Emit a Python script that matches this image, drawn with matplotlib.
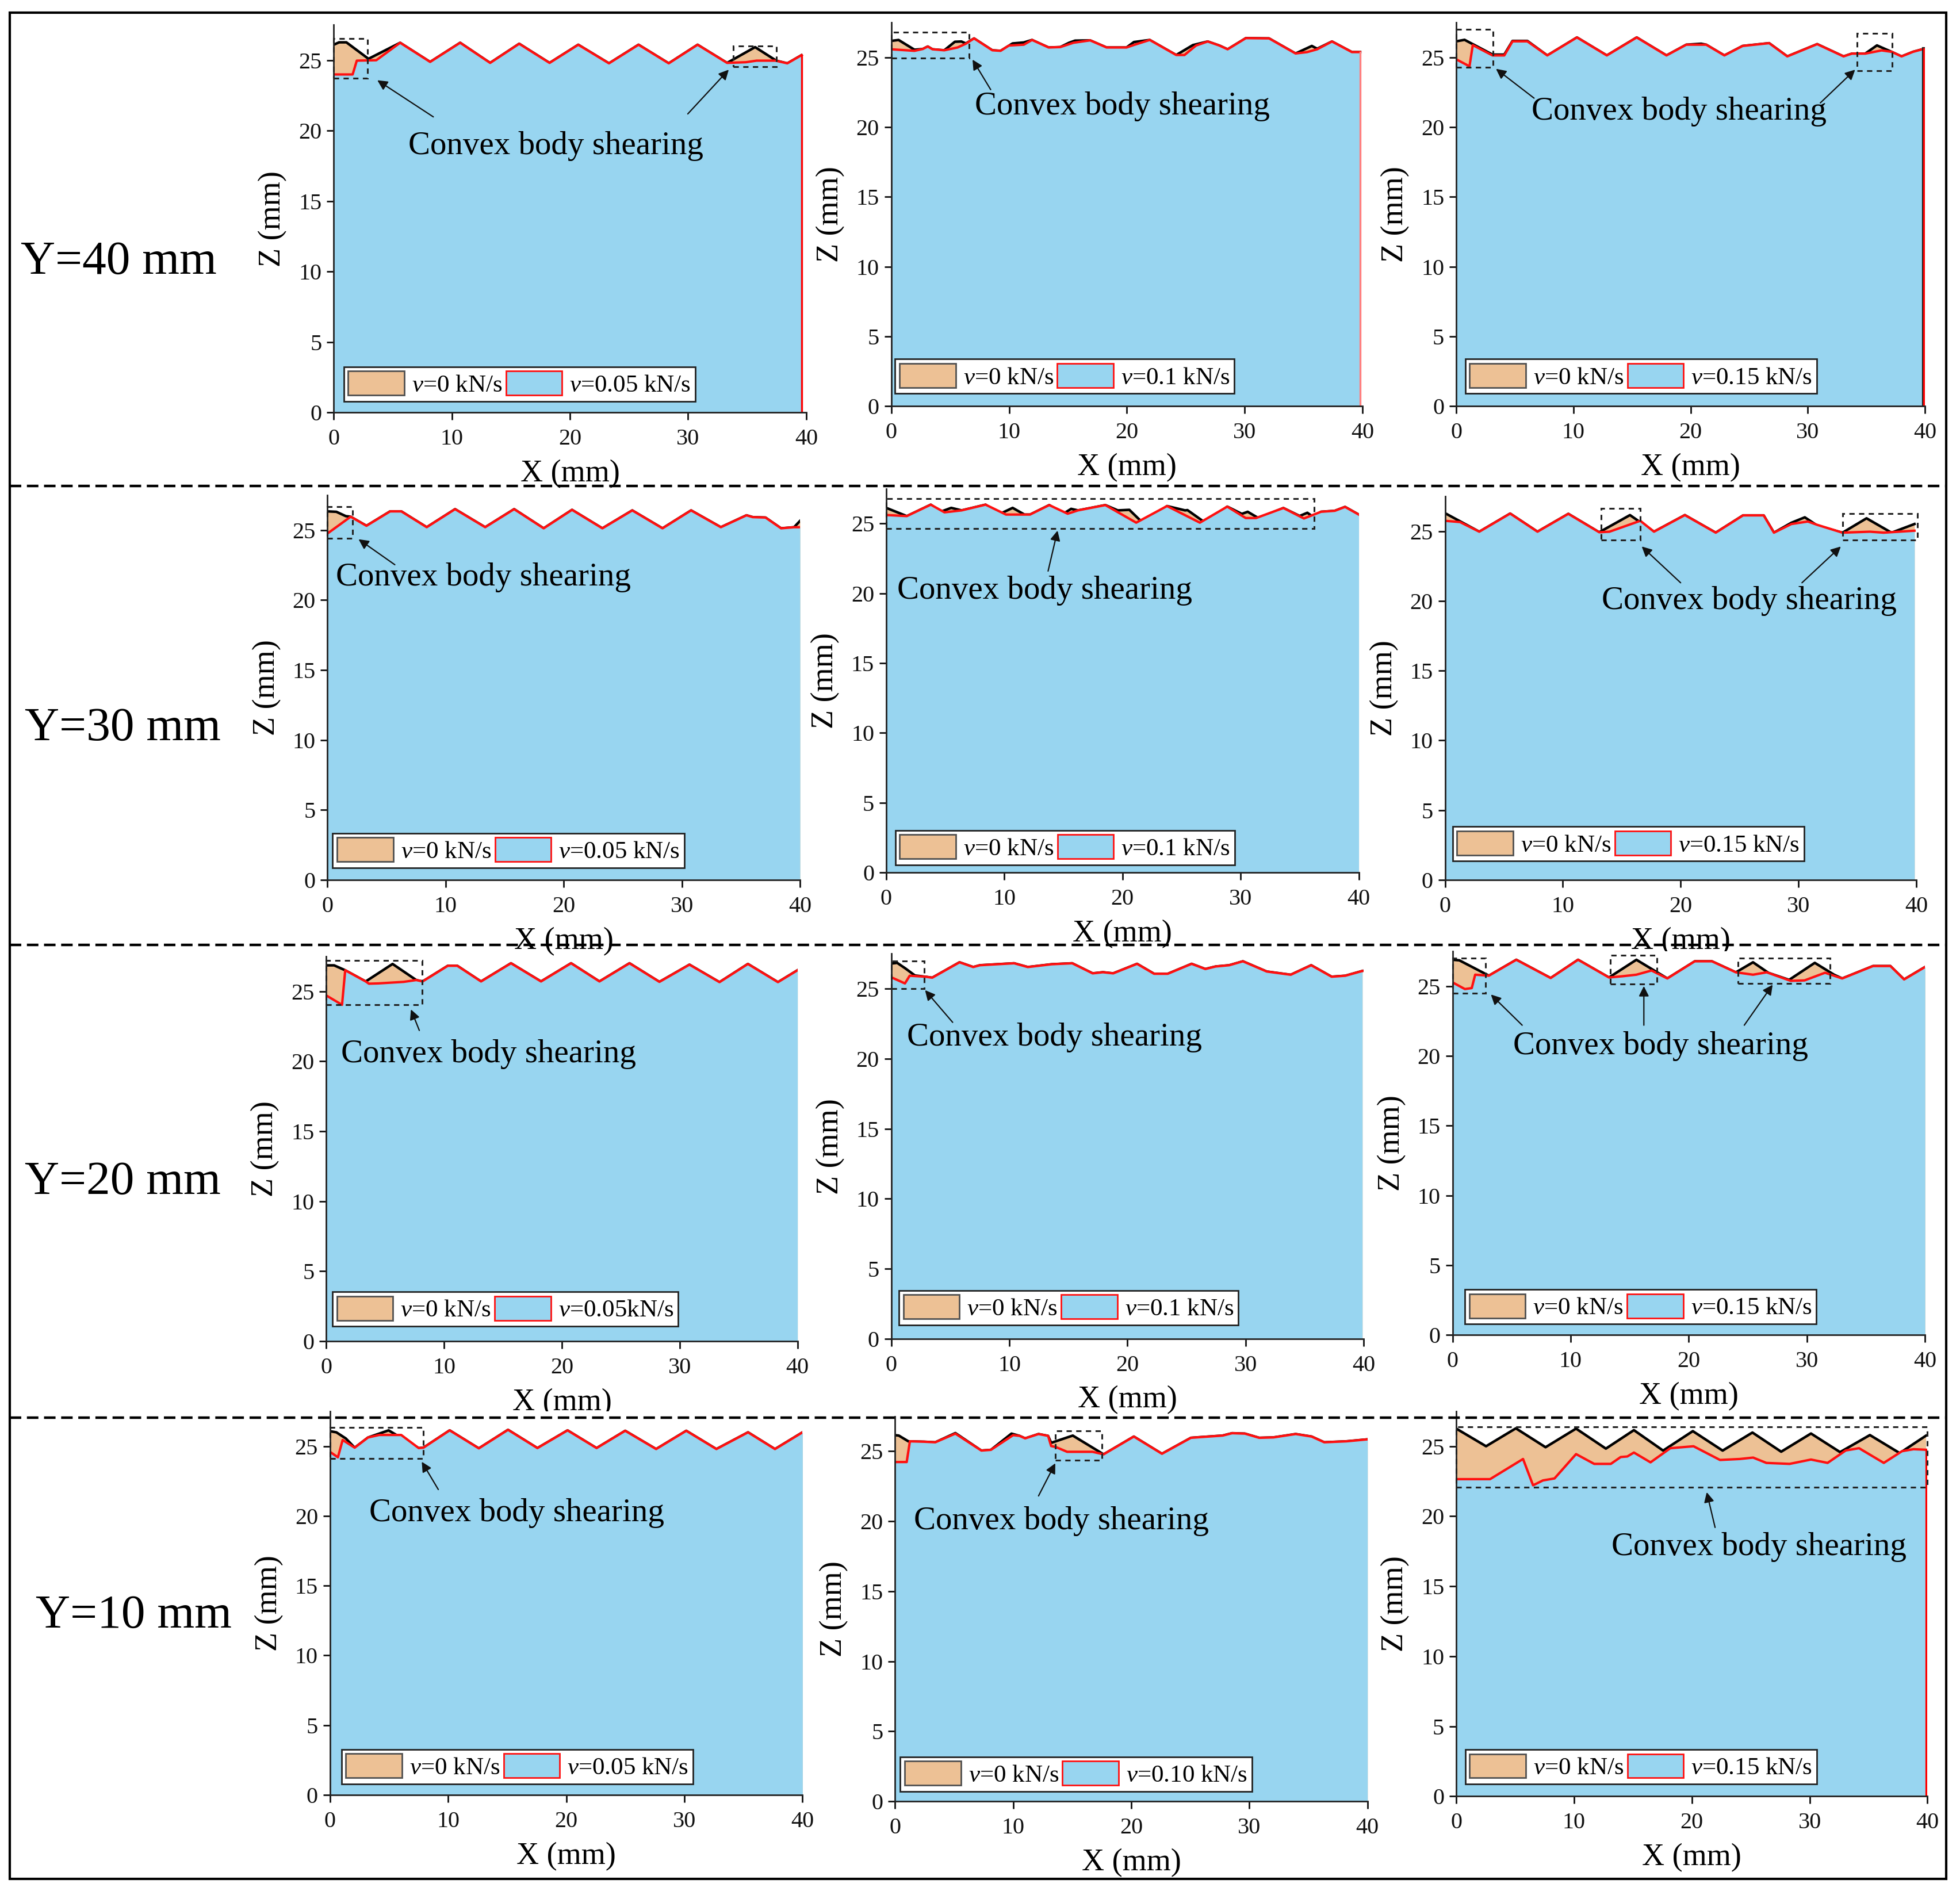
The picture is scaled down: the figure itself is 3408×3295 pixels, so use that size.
import matplotlib
matplotlib.use('Agg')
import matplotlib.pyplot as plt
from matplotlib.patches import Rectangle, Patch
from matplotlib.lines import Line2D

plt.rcParams['font.family'] = ['Liberation Serif', 'DejaVu Serif']
plt.rcParams['mathtext.fontset'] = 'custom'
plt.rcParams['mathtext.it'] = 'Liberation Serif:italic'
plt.rcParams['mathtext.rm'] = 'Liberation Serif'

# ---------------- data (X in mm, Z in mm) ----------------
row_labels = ['Y=40 mm', 'Y=30 mm', 'Y=20 mm', 'Y=10 mm']
ref_label = '$v$=0 kN/s'
load_labels = [['$v$=0.05 kN/s', '$v$=0.1 kN/s', '$v$=0.15 kN/s'],
               ['$v$=0.05 kN/s', '$v$=0.1 kN/s', '$v$=0.15 kN/s'],
               ['$v$=0.05kN/s', '$v$=0.1 kN/s', '$v$=0.15 kN/s'],
               ['$v$=0.05 kN/s', '$v$=0.10 kN/s', '$v$=0.15 kN/s']]
x_ticks = [0, 10, 20, 30, 40]
z_ticks = [0, 5, 10, 15, 20, 25]
note = 'Convex body shearing'

# Y=40, v=0.05
y40a_x0 = [0, 0.45, 1.07, 2.94, 5.62, 8.16, 10.7, 13.24, 15.7, 18.27, 20.7, 23.3, 25.8, 28.36, 30.8, 33.3, 35.67, 37.46, 38.4, 39.6]
y40a_z0 = [26.1, 26.27, 26.27, 25.1, 26.24, 24.88, 26.24, 24.81, 26.17, 24.81, 26.1, 24.78, 26.1, 24.78, 26.1, 24.81, 25.93, 24.97, 24.78, 25.36]
y40a_x1 = [0, 1.6, 1.95, 3.6, 5.62, 8.16, 10.7, 13.24, 15.7, 18.27, 20.7, 23.3, 25.8, 28.36, 30.8, 33.3, 34.9, 35.8, 37.4, 38.4, 39.6]
y40a_z1 = [23.99, 23.99, 24.97, 25.0, 26.24, 24.88, 26.24, 24.81, 26.17, 24.81, 26.1, 24.78, 26.1, 24.78, 26.1, 24.81, 24.86, 24.97, 24.97, 24.78, 25.36]

# Y=40, v=0.1
y40b_x0 = [0, 0.62, 1.97, 2.67, 3.1, 3.5, 4.5, 5.4, 5.95, 6.33, 7.03, 8.58, 9.28, 10.3, 11.25, 11.95, 13.36, 14.35, 15.1, 15.6,
           16.88, 18.28, 19.97, 20.6, 21.94, 24.19, 25.6, 26.86, 27.85, 28.55, 30.1, 32.07, 34.32, 35.7, 36.15, 37.41, 39.1, 39.8]
y40b_z0 = [26.18, 26.25, 25.55, 25.6, 25.78, 25.58, 25.51, 26.12, 26.14, 26.0, 26.36, 25.51, 25.47, 26.0, 26.07, 26.25, 25.71, 25.74, 26.05, 26.2,
           26.22, 25.71, 25.71, 26.1, 26.25, 25.17, 25.88, 26.14, 25.85, 25.58, 26.38, 26.36, 25.28, 25.82, 25.62, 26.14, 25.38, 25.38]
y40b_x1 = [0, 1.97, 2.67, 3.1, 3.5, 4.5, 5.63, 6.33, 7.03, 8.58, 9.28, 9.99, 11.25, 11.95, 13.36, 14.35, 15.47, 16.88, 18.28, 19.97,
           20.67, 21.94, 24.19, 24.89, 25.87, 26.86, 27.85, 28.55, 30.1, 32.07, 34.32, 35.3, 36.15, 37.41, 39.1, 39.8]
y40b_z1 = [25.58, 25.47, 25.6, 25.78, 25.58, 25.51, 25.71, 25.98, 26.36, 25.51, 25.47, 25.85, 25.91, 26.25, 25.71, 25.74, 26.05, 26.22, 25.71, 25.71,
           25.91, 26.25, 25.17, 25.17, 25.85, 26.14, 25.85, 25.58, 26.38, 26.36, 25.28, 25.38, 25.58, 26.14, 25.38, 25.38]

# Y=40, v=0.15
y40c_x0 = [0, 0.71, 3.1, 4.1, 4.8, 6.07, 7.77, 10.3, 12.85, 15.4, 17.94, 19.63, 20.9, 21.33, 22.88, 24.44, 26.7, 28.25, 30.8, 33.05,
           33.76, 34.9, 35.9, 36.6, 37.15, 38.0, 38.98, 39.9]
y40c_z0 = [26.15, 26.26, 25.2, 25.2, 26.18, 26.18, 25.14, 26.43, 25.14, 26.43, 25.14, 25.91, 25.98, 25.91, 25.14, 25.82, 26.02, 25.07, 25.95, 25.07,
           25.27, 25.27, 25.86, 25.6, 25.4, 25.07, 25.4, 25.61]
y40c_x1 = [0, 1.13, 1.41, 3.1, 4.1, 4.8, 6.07, 7.77, 10.3, 12.85, 15.4, 17.94, 19.63, 21.33, 22.88, 24.44, 26.7, 28.25, 30.8, 33.05,
           33.76, 34.9, 36.3, 37.15, 38.0, 38.98, 39.9]
y40c_z1 = [24.86, 24.36, 25.88, 25.14, 25.14, 26.15, 26.15, 25.14, 26.43, 25.14, 26.43, 25.14, 25.91, 25.91, 25.14, 25.82, 26.02, 25.07, 25.95, 25.07,
           25.27, 25.27, 25.5, 25.4, 25.07, 25.4, 25.61]

# Y=30, v=0.05
y30a_x0 = [0, 0.75, 1.55, 1.96, 3.3, 5.3, 6.25, 8.4, 10.8, 13.35, 15.8, 18.3, 20.7, 23.27, 25.8, 28.36, 30.78, 33.3, 35.47, 36.0, 37.08, 38.4, 39.5, 40]
y30a_z0 = [26.33, 26.3, 25.99, 25.95, 25.3, 26.33, 26.33, 25.2, 26.49, 25.2, 26.49, 25.12, 26.44, 25.12, 26.4, 25.12, 26.4, 25.2, 26.05, 25.92, 25.89, 25.12, 25.2, 25.65]
y30a_x1 = [0, 1.96, 3.3, 5.3, 6.25, 8.4, 10.8, 13.35, 15.8, 18.3, 20.7, 23.27, 25.8, 28.36, 30.78, 33.3, 35.47, 36.0, 37.08, 38.4, 39.5, 40]
y30a_z1 = [24.75, 25.95, 25.3, 26.33, 26.33, 25.2, 26.49, 25.2, 26.49, 25.12, 26.44, 25.12, 26.4, 25.12, 26.4, 25.2, 26.05, 25.92, 25.89, 25.12, 25.2, 25.2]

# Y=30, v=0.1
y30b_x0 = [0, 1.74, 3.77, 4.6, 5.5, 6.38, 8.41, 9.5, 10.7, 11.7, 12.17, 13.8, 15.0, 15.65, 16.23, 18.55, 19.6, 20.58, 21.7, 23.77,
           25.3, 25.5, 27.0, 28.87, 30.1, 30.6, 31.5, 33.62, 35.0, 35.65, 36.2, 36.8, 37.97, 38.84, 40]
y30b_z0 = [26.13, 25.54, 26.36, 25.85, 26.13, 25.95, 26.36, 25.65, 26.13, 25.65, 25.65, 26.33, 25.71, 26.06, 25.95, 26.33, 25.95, 25.99, 25.07, 26.26,
           25.95, 25.97, 25.07, 26.22, 25.7, 25.85, 25.4, 26.12, 25.55, 25.78, 25.45, 25.85, 25.92, 26.2, 25.65]
y30b_x1 = [0, 1.74, 3.77, 4.93, 6.38, 8.41, 10.14, 12.17, 13.8, 15.36, 16.23, 18.55, 21.16, 23.77, 26.55, 28.87, 30.43, 31.3, 33.62, 35.36,
           36.8, 37.97, 38.84, 40]
y30b_z1 = [25.62, 25.54, 26.36, 25.81, 25.95, 26.36, 25.65, 25.65, 26.33, 25.71, 25.95, 26.33, 25.07, 26.26, 25.07, 26.22, 25.4, 25.4, 26.12, 25.37,
           25.85, 25.92, 26.2, 25.65]

# Y=30, v=0.15
y30c_x0 = [0, 2.91, 5.53, 7.85, 10.47, 13.09, 15.7, 17.74, 20.36, 22.98, 25.3, 27.05, 27.92, 29.4, 30.54, 31.6, 33.74, 35.78, 37.9, 39.85]
y30c_z0 = [26.29, 24.96, 26.26, 24.96, 26.24, 24.92, 26.15, 24.96, 26.15, 24.89, 26.13, 26.13, 24.89, 25.6, 25.99, 25.4, 24.89, 25.92, 24.89, 25.51]
y30c_x1 = [0, 1.28, 2.91, 5.53, 7.85, 10.47, 13.09, 13.96, 16.58, 17.74, 20.36, 22.98, 25.3, 27.05, 27.92, 29.4, 30.8, 31.6, 33.74, 36.07, 37.23, 39.85]
y30c_z1 = [25.74, 25.65, 24.96, 26.26, 24.96, 26.24, 24.92, 24.96, 25.74, 24.96, 26.15, 24.89, 26.13, 26.13, 24.89, 25.51, 25.69, 25.45, 24.89, 24.96, 24.89, 25.03]

# Y=20, v=0.05
y20a_x0 = [0, 0.67, 1.61, 3.35, 5.63, 7.64, 8.18, 10.32, 11.12, 13.14, 15.68, 18.23, 20.78, 23.19, 25.74, 28.28, 30.83, 33.38, 35.79, 38.34, 40]
y20a_z0 = [26.85, 26.85, 26.5, 25.7, 26.95, 25.8, 25.7, 26.82, 26.82, 25.7, 27.0, 25.7, 27.0, 25.7, 27.0, 25.67, 26.9, 25.65, 26.95, 25.65, 26.5]
y20a_x1 = [0, 1.34, 1.61, 3.35, 3.62, 4.42, 6.57, 7.64, 8.18, 10.32, 11.12, 13.14, 15.68, 18.23, 20.78, 23.19, 25.74, 28.28, 30.83, 33.38, 35.79, 38.34, 40]
y20a_z1 = [24.7, 24.03, 26.5, 25.7, 25.54, 25.56, 25.67, 25.8, 25.7, 26.82, 26.82, 25.7, 27.0, 25.7, 27.0, 25.7, 27.0, 25.67, 26.9, 25.65, 26.95, 25.65, 26.5]

# Y=20, v=0.1
y20b_x0 = [0, 0.5, 1.2, 2.0, 2.89, 3.47, 5.78, 6.94, 7.51, 10.4, 11.56, 13.58, 15.32, 17.05, 17.92, 18.79, 20.81, 22.25, 23.41, 25.43,
           26.59, 27.46, 28.61, 29.77, 31.79, 33.82, 35.55, 37.28, 38.44, 39.88]
y20b_z0 = [26.8, 26.85, 26.45, 25.95, 25.86, 25.79, 26.89, 26.55, 26.68, 26.82, 26.55, 26.75, 26.82, 26.1, 26.18, 26.1, 26.78, 26.07, 26.07, 26.78,
           26.41, 26.59, 26.68, 26.96, 26.23, 26.0, 26.68, 25.86, 25.93, 26.27]
y20b_x1 = [0, 1.16, 1.56, 2.89, 3.47, 5.78, 6.94, 7.51, 10.4, 11.56, 13.58, 15.32, 17.05, 17.92, 18.79, 20.81, 22.25, 23.41, 25.43, 26.59,
           27.46, 28.61, 29.77, 31.79, 33.82, 35.55, 37.28, 38.44, 39.88]
y20b_z1 = [25.82, 25.38, 25.93, 25.86, 25.79, 26.89, 26.55, 26.68, 26.82, 26.55, 26.75, 26.82, 26.1, 26.18, 26.1, 26.78, 26.07, 26.07, 26.78, 26.41,
           26.59, 26.68, 26.96, 26.23, 26.0, 26.68, 25.86, 25.93, 26.27]

# Y=20, v=0.15
y20c_x0 = [0, 0.58, 3.08, 5.4, 8.31, 10.63, 13.25, 15.57, 18.19, 20.51, 21.96, 23.99, 25.44, 26.75, 28.5, 30.67, 32.3, 32.99, 35.6, 37.07, 38.23, 40]
y20c_z0 = [26.89, 26.85, 25.75, 26.89, 25.58, 26.89, 25.62, 26.89, 25.55, 26.78, 26.78, 25.99, 26.71, 25.95, 25.45, 26.67, 25.82, 25.55, 26.44, 26.44, 25.48, 26.37]
y20c_x1 = [0, 1.05, 1.63, 1.92, 3.08, 5.4, 8.31, 10.63, 13.25, 14.41, 15.57, 16.85, 18.19, 20.51, 21.96, 23.99, 25.44, 26.6, 28.63, 29.8,
           31.54, 32.99, 35.6, 37.07, 38.23, 40]
y20c_z1 = [25.27, 24.79, 24.86, 25.82, 25.75, 26.89, 25.58, 26.89, 25.62, 25.71, 25.82, 26.12, 25.55, 26.78, 26.78, 25.99, 25.82, 25.99, 25.38, 25.41,
           25.96, 25.55, 26.44, 26.44, 25.48, 26.37]

# Y=10, v=0.05
y10a_x0 = [0, 0.54, 1.34, 2.09, 3.22, 4.96, 7.51, 7.91, 10.13, 12.6, 15.07, 17.56, 20.11, 22.57, 24.99, 27.61, 30.16, 32.71, 35.39, 37.67, 40]
y10a_z0 = [26.07, 25.99, 25.55, 24.89, 25.62, 26.13, 24.86, 24.89, 26.13, 24.84, 26.17, 24.86, 26.13, 24.86, 26.1, 24.79, 26.1, 24.79, 25.99, 24.79, 25.99]
y10a_x1 = [0, 0.67, 1.07, 2.09, 3.22, 4.16, 6.03, 7.51, 7.91, 10.13, 12.6, 15.07, 17.56, 20.11, 22.57, 24.99, 27.61, 30.16, 32.71, 35.39, 37.67, 40]
y10a_z1 = [24.59, 24.2, 25.44, 24.89, 25.62, 25.8, 25.8, 24.86, 24.89, 26.13, 24.84, 26.17, 24.86, 26.13, 24.86, 26.1, 24.79, 26.1, 24.79, 25.99, 24.79, 25.99]

# Y=10, v=0.10
y10b_x0 = [0, 0.32, 1.13, 2.47, 3.41, 5.11, 7.31, 8.12, 9.86, 10.54, 11.02, 12.15, 12.96, 13.22, 15.05, 17.66, 20.22, 22.6, 25.05, 25.86,
           27.74, 28.54, 29.62, 30.83, 32.04, 33.92, 35.27, 36.34, 38.22, 40]
y10b_z0 = [26.15, 26.12, 25.71, 25.68, 25.64, 26.3, 25.05, 25.1, 26.26, 26.1, 25.92, 26.23, 26.1, 25.6, 26.12, 24.78, 26.05, 24.82, 25.96, 26.01,
           26.12, 26.29, 26.26, 25.96, 25.99, 26.23, 26.05, 25.64, 25.71, 25.85]
y10b_x1 = [0, 0.99, 1.26, 2.47, 3.41, 5.11, 7.31, 8.12, 10.0, 10.54, 11.02, 12.15, 12.96, 13.22, 13.62, 14.57, 16.72, 17.66, 20.22, 22.6,
           25.05, 25.86, 27.74, 28.54, 29.62, 30.83, 32.04, 33.92, 35.27, 36.34, 38.22, 40]
y10b_z1 = [24.23, 24.23, 25.71, 25.68, 25.64, 26.26, 25.05, 25.1, 26.15, 26.1, 25.92, 26.23, 26.1, 25.37, 25.3, 24.96, 24.96, 24.78, 26.05, 24.82,
           25.96, 26.01, 26.12, 26.29, 26.26, 25.96, 25.99, 26.23, 26.05, 25.64, 25.71, 25.85]

# Y=10, v=0.15
y10c_x0 = [0, 2.53, 5.06, 7.58, 10.17, 12.7, 15.08, 17.56, 20.08, 22.61, 25.14, 27.58, 30.11, 32.58, 35.11, 37.64, 39.86]
y10c_z0 = [26.26, 25.0, 26.28, 24.93, 26.26, 24.83, 26.15, 24.69, 26.08, 24.69, 25.98, 24.61, 25.91, 24.58, 25.8, 24.51, 25.75]
y10c_x1 = [0, 2.87, 5.67, 6.52, 7.36, 8.34, 10.17, 11.71, 13.12, 13.96, 14.52, 15.08, 16.49, 18.17, 20.14, 22.39, 24.07, 25.2, 26.32, 28.29,
           30.11, 31.52, 33.06, 34.19, 36.29, 37.84, 38.82, 39.86]
y10c_z1 = [22.65, 22.65, 24.09, 22.21, 22.56, 22.7, 24.44, 23.74, 23.74, 24.23, 24.27, 24.55, 23.85, 24.86, 25.0, 24.02, 24.09, 24.19, 23.81, 23.74,
           24.05, 23.81, 24.7, 24.86, 23.81, 24.65, 24.79, 24.75]

profiles = [
    (y40a_x0, y40a_z0, y40a_x1, y40a_z1), (y40b_x0, y40b_z0, y40b_x1, y40b_z1), (y40c_x0, y40c_z0, y40c_x1, y40c_z1),
    (y30a_x0, y30a_z0, y30a_x1, y30a_z1), (y30b_x0, y30b_z0, y30b_x1, y30b_z1), (y30c_x0, y30c_z0, y30c_x1, y30c_z1),
    (y20a_x0, y20a_z0, y20a_x1, y20a_z1), (y20b_x0, y20b_z0, y20b_x1, y20b_z1), (y20c_x0, y20c_z0, y20c_x1, y20c_z1),
    (y10a_x0, y10a_z0, y10a_x1, y10a_z1), (y10b_x0, y10b_z0, y10b_x1, y10b_z1), (y10c_x0, y10c_z0, y10c_x1, y10c_z1),
]

# annotation: label centre, dashed boxes (x0, x1, z0, z1), arrows (from, to) in data units
note_pos = [(18.8, 18.9), (19.6, 21.5), (19.0, 21.1),
            (13.2, 21.6), (13.4, 20.2), (25.8, 20.0),
            (13.8, 20.5), (13.8, 21.5), (17.6, 20.7),
            (15.8, 20.2), (14.1, 20.0), (25.7, 17.8)]
note_boxes = [[(0, 2.86, 23.74, 26.56), (33.8, 37.46, 24.54, 26.0)],
              [(0, 6.6, 24.97, 26.81)],
              [(0, 3.16, 24.28, 27.0), (34.18, 37.2, 24.05, 26.73)],
              [(0, 2.1, 24.41, 26.67)],
              [(0, 36.2, 24.66, 26.81)],
              [(13.26, 16.58, 24.37, 26.63), (33.74, 40.1, 24.37, 26.26)],
              [(0, 8.12, 24.04, 27.19)],
              [(0, 2.8, 25.0, 27.0)],
              [(0, 2.8, 24.5, 27.0), (13.36, 17.3, 25.15, 27.2), (24.17, 31.96, 25.2, 27.0)],
              [(0, 7.91, 24.11, 26.35)],
              [(13.55, 17.53, 24.34, 26.47)],
              [(0, 40, 22.07, 26.4)]]
note_arrows = [[((8.43, 20.98), (3.69, 23.58)), ((29.97, 21.19), (33.44, 24.33))],
               [((8.44, 22.69), (6.9, 24.84))],
               [((6.64, 22.08), (3.39, 24.18)), ((31.07, 21.74), (34.04, 24.12))],
               [((5.7, 22.52), (2.63, 24.34))],
               [((13.7, 21.6), (14.5, 24.5))],
               [((20.0, 21.3), (16.7, 23.9)), ((30.3, 21.3), (33.6, 23.9))],
               [((7.9, 22.2), (7.19, 23.7))],
               [((5.2, 22.6), (2.86, 24.9))],
               [((5.9, 22.2), (3.25, 24.4)), ((16.2, 22.2), (16.2, 25.0)), ((24.7, 22.2), (27.1, 25.1))],
               [((9.17, 21.89), (7.77, 23.88))],
               [((12.15, 21.81), (13.57, 24.14))],
               [((21.97, 19.2), (21.26, 21.72))]]

# ---------------- layout (positions in 1568x1516 reference grid) ----------------
RW, RH = 1568.0, 1516.0
axes_px = [(267, 645, 330, 20), (713, 1090, 325, 18), (1165, 1540, 325, 18),
           (262, 640, 704, 396), (709, 1087, 698, 391), (1156, 1533, 704, 397),
           (261, 638, 1073, 765), (713, 1091, 1071, 763), (1162, 1540, 1068, 761),
           (264, 642, 1436, 1129), (716, 1094, 1441, 1133), (1165, 1542, 1437, 1129)]
legend_anchor = [(0.021, 0.029), (0.008, 0.033), (0.019, 0.033),
                 (0.011, 0.032), (0.019, 0.020), (0.016, 0.049),
                 (0.013, 0.039), (0.016, 0.036), (0.026, 0.029),
                 (0.024, 0.029), (0.011, 0.026), (0.019, 0.032)]
edge_style = [('#ff0000', None), ('#ff8080', None), ('#ff0000', '#202020'),
              None, None, None,
              None, None, None,
              None, None, ('#ff0000', None)]
row_label_px = [(95, 210), (98, 583), (98, 946), (107, 1293)]
sep_px = [389, 756, 1134]

ORANGE = '#EDC195'
BLUE = '#98D5F0'
RED = '#FF1010'

fig = plt.figure(figsize=(3408 / 200, 3295 / 200), dpi=200)

for i, (x0, z0, x1, z1) in enumerate(profiles):
    r, c = divmod(i, 3)
    px0, px40, py0, ptop = axes_px[i]
    ax = fig.add_axes([px0 / RW, 1 - py0 / RH, (px40 - px0) / RW, (py0 - ptop) / RH])
    ax.fill_between(x0, z0, 0, color=ORANGE, lw=0, zorder=1)
    ax.plot(x0, z0, color='black', lw=1.6, zorder=1.5)
    ax.fill_between(x1, z1, 0, color=BLUE, lw=0, zorder=1.6)
    ax.plot(x1, z1, color=RED, lw=1.5, zorder=1.8)
    es = edge_style[i]
    if es is not None:
        col, back = es
        if back:
            ax.plot([x1[-1], x1[-1]], [0, z1[-1]], color=back, lw=2.6, zorder=1.85)
        ax.plot([x1[-1], x1[-1]], [0, z1[-1]], color=col, lw=1.2, zorder=1.9)

    ax.set_xlim(0, 40)
    ax.set_ylim(0, 27.5)
    ax.set_xticks(x_ticks)
    ax.set_yticks(z_ticks)
    for s in ['top', 'right']:
        ax.spines[s].set_visible(False)
    for s in ['left', 'bottom']:
        ax.spines[s].set_linewidth(1.0)
        ax.spines[s].set_color('#222222')
    ax.tick_params(direction='out', length=4.5, width=1.0, labelsize=14.5, colors='#111111')
    ax.tick_params(axis='x', pad=5.5)
    ax.tick_params(axis='y', pad=3)
    ax.set_xlabel('X (mm)', fontsize=19.5, labelpad=6)
    ax.set_ylabel('Z (mm)', fontsize=19.5, labelpad=7)

    h1 = Patch(facecolor=ORANGE, edgecolor='#505050', lw=1.0)
    h2 = Patch(facecolor=BLUE, edgecolor=RED, lw=1.0)
    leg = ax.legend([h1, h2], [ref_label, load_labels[r][c]], loc='lower left',
                    bbox_to_anchor=legend_anchor[i], ncol=2, fontsize=15.5,
                    handlelength=2.27, handleheight=1.12, handletextpad=0.3,
                    columnspacing=0.15, borderpad=0.18, borderaxespad=0,
                    frameon=True, fancybox=False, edgecolor='#222222', framealpha=1)
    leg.get_frame().set_linewidth(1.0)
    leg.set_zorder(6)

    tx, tz = note_pos[i]
    ax.text(tx, tz, note, ha='center', va='center', fontsize=20.5, zorder=7)
    for (bx0, bx1, bz0, bz1) in note_boxes[i]:
        ax.add_patch(Rectangle((bx0, bz0), bx1 - bx0, bz1 - bz0, fill=False,
                               ls=(0, (3, 2.5)), lw=1.1, ec='#222222',
                               clip_on=False, zorder=5))
    for (frm, to) in note_arrows[i]:
        ax.annotate('', xy=to, xytext=frm,
                    arrowprops=dict(arrowstyle='-|>', lw=0.8, color='#111111',
                                    mutation_scale=13, shrinkA=0, shrinkB=0),
                    zorder=7)

# row labels
for lab, (rx, ry) in zip(row_labels, row_label_px):
    fig.text(rx / RW, 1 - ry / RH, lab, ha='center', va='center', fontsize=30)

# dashed separators
for sy in sep_px:
    fig.add_artist(Line2D([8 / RW, 1557 / RW], [1 - sy / RH, 1 - sy / RH],
                          transform=fig.transFigure, color='black', lw=1.6,
                          ls=(0, (4.5, 2.2))))

# outer frame
fig.add_artist(Rectangle((8 / RW, 1 - 1503 / RH), (1557 - 8) / RW, (1503 - 10) / RH,
                         transform=fig.transFigure, fill=False, ec='black', lw=1.5))

fig.savefig('out.png', dpi=200, facecolor='white')
